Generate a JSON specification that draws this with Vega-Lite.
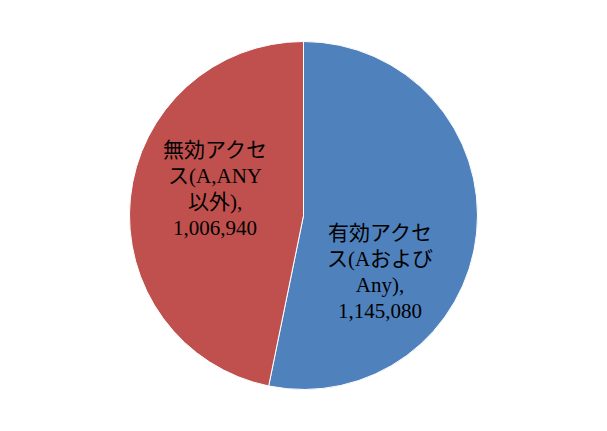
{
  "$schema": "https://vega.github.io/schema/vega-lite/v6.json",
  "width": 607,
  "height": 431,
  "autosize": {"type": "fit", "contains": "padding"},
  "padding": 0,
  "background": "white",
  "config": {"view": {"stroke": null}},
  "data": {
    "values": [
      {"category": "有効アクセス(AおよびAny)", "value": 1145080, "order": 1, "label": "有効アクセ\nス(Aおよび\nAny),\n1,145,080"},
      {"category": "無効アクセス(A,ANY以外)", "value": 1006940, "order": 2, "label": "無効アクセ\nス(A,ANY\n以外),\n1,006,940"}
    ]
  },
  "encoding": {
    "theta": {"field": "value", "type": "quantitative", "stack": true},
    "order": {"field": "order", "type": "quantitative"},
    "color": {
      "field": "category",
      "type": "nominal",
      "scale": {"domain": ["有効アクセス(AおよびAny)", "無効アクセス(A,ANY以外)"], "range": ["#4F81BD", "#C0504D"]},
      "legend": null
    }
  },
  "layer": [
    {"mark": {"type": "arc", "outerRadius": 174, "stroke": "#ffffff", "strokeWidth": 1}},
    {
      "mark": {"type": "text", "radius": 93, "dx": -16, "dy": 9, "font": "Liberation Serif, Noto Sans CJK JP", "fontSize": 21, "lineHeight": 26, "lineBreak": "\n", "color": "black", "align": "center", "baseline": "middle"},
      "encoding": {"text": {"condition": {"test": "datum.order == 1", "field": "label"}, "value": ""}, "color": {"value": "black"}}
    },
    {
      "mark": {"type": "text", "radius": 100, "dx": 11, "dy": -54, "font": "Liberation Serif, Noto Sans CJK JP", "fontSize": 21, "lineHeight": 26, "lineBreak": "\n", "color": "black", "align": "center", "baseline": "middle"},
      "encoding": {"text": {"condition": {"test": "datum.order == 2", "field": "label"}, "value": ""}, "color": {"value": "black"}}
    }
  ]
}
